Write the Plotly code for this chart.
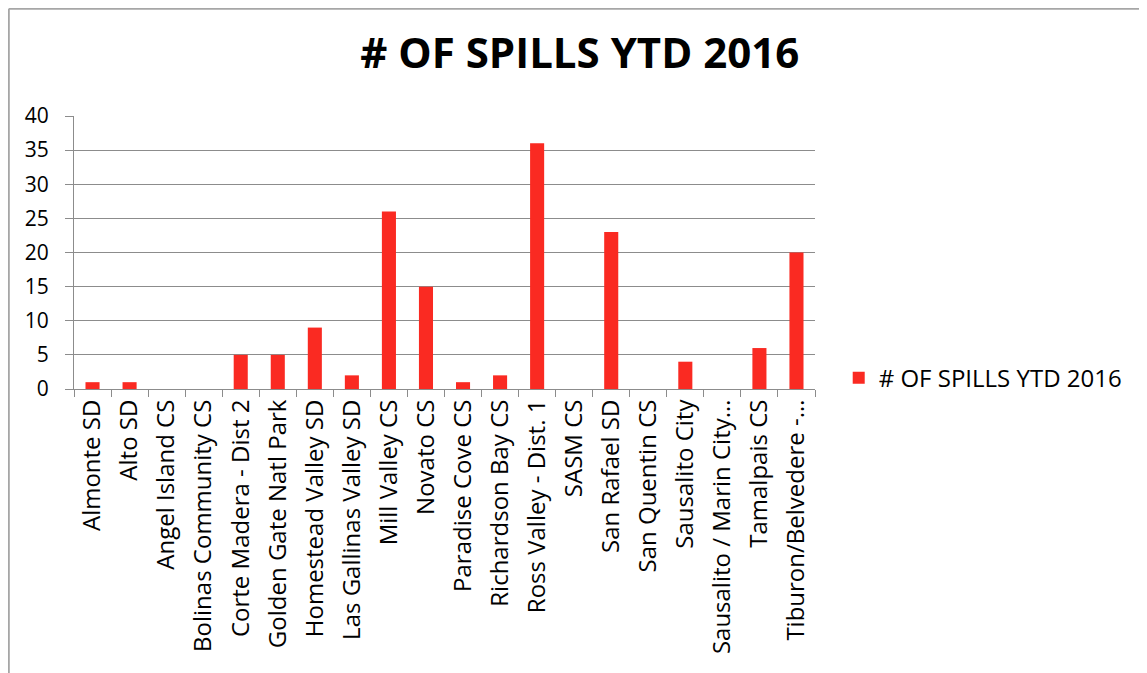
import plotly.graph_objects as go

# Spill counts by agency
agencies = [
    "Almonte SD", "Alto SD", "Angel Island CS", "Bolinas Community CS",
    "Corte Madera - Dist 2", "Golden Gate Natl Park", "Homestead Valley SD",
    "Las Gallinas Valley SD", "Mill Valley CS", "Novato CS", "Paradise Cove CS",
    "Richardson Bay CS", "Ross Valley - Dist. 1", "SASM CS", "San Rafael SD",
    "San Quentin CS", "Sausalito City", "Sausalito / Marin City…",
    "Tamalpais CS", "Tiburon/Belvedere -…",
]
spills = [1, 1, 0, 0, 5, 5, 9, 2, 26, 15, 1, 2, 36, 0, 23, 0, 4, 0, 6, 20]
y_ticks = [0, 5, 10, 15, 20, 25, 30, 35, 40]

series_name = "# OF SPILLS YTD 2016"
bar_color = "#FA2A22"
grid_color = "#8C8C8C"
font_family = "'Open Sans', sans-serif"

# the page adds an 8px body margin, so the figure is drawn slightly smaller
fig_w, fig_h = 1139, 665

fig = go.Figure()
fig.add_trace(go.Bar(
    x=agencies,
    y=spills,
    name=series_name,
    marker=dict(color=bar_color, line=dict(width=0)),
    showlegend=True,
))

fig.update_layout(
    width=fig_w,
    height=fig_h,
    paper_bgcolor="white",
    plot_bgcolor="white",
    margin=dict(l=66, r=332, t=108, b=284, autoexpand=False),
    bargap=0.62,
    font=dict(family=font_family, color="black", size=20),
    title=dict(
        text="<b># OF SPILLS YTD 2016</b>",
        x=0.502, xanchor="center",
        y=0.932, yanchor="middle",
        font=dict(family=font_family, size=42, color="black"),
    ),
    legend=dict(
        x=1.032, xanchor="left",
        y=0.04, yanchor="middle",
        font=dict(size=24),
        itemwidth=30,
    ),
    xaxis=dict(
        tickangle=-90,
        tickson="boundaries",
        ticks="outside",
        ticklen=7,
        tickcolor=grid_color,
        showline=True,
        linecolor=grid_color,
        linewidth=1,
        showgrid=False,
        tickfont=dict(size=24),
    ),
    yaxis=dict(
        range=[0, 40],
        tickvals=y_ticks,
        ticks="outside",
        ticklen=8,
        tickcolor=grid_color,
        showline=True,
        linecolor=grid_color,
        gridcolor=grid_color,
        gridwidth=1,
        zeroline=False,
        ticklabelstandoff=12,
        tickfont=dict(size=21),
    ),
    shapes=[
        dict(type="line", xref="paper", yref="paper",
             x0=-0.088, x1=1.45, y0=1.393, y1=1.393,
             line=dict(color="#A6A6A6", width=2)),
        dict(type="line", xref="paper", yref="paper",
             x0=-0.088, x1=-0.088, y0=1.393, y1=-1.05,
             line=dict(color="#A6A6A6", width=2)),
    ],
)

fig.write_html("out.html")
